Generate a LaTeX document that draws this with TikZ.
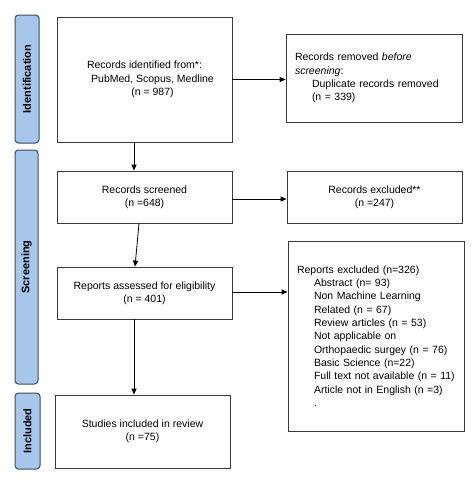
\documentclass[tikz,border=0pt]{standalone}
\usepackage{fontspec}
\setmainfont{Liberation Sans}
\usetikzlibrary{arrows.meta}
\definecolor{barfill}{HTML}{A6C6EC}
\definecolor{bardraw}{HTML}{3E4C5E}
\definecolor{boxdraw}{HTML}{3A3A3A}
\begin{document}
\begin{tikzpicture}[x=1pt,y=-1pt,
  font=\fontsize{10.5}{13.3}\selectfont,
  box/.style={draw=boxdraw, line width=0.8pt, rectangle, inner sep=0pt, align=center},
  leftbox/.style={draw=boxdraw, line width=0.8pt, rectangle, inner xsep=9pt, inner ysep=0pt, align=left, text width=158pt},
  bar/.style={draw=bardraw, fill=barfill, line width=1pt, rounded corners=3.5pt, rotate=90, inner sep=0pt, font=\fontsize{11}{13}\selectfont\bfseries},
  arr/.style={-{Triangle[length=6pt,width=5pt]}, line width=0.8pt, black}]
\useasboundingbox (0,0) rectangle (472,480);
\fill[white] (0,0) rectangle (472,480);

% phase bars
\node[bar, minimum width=128pt, minimum height=24pt] (bid) at (27,79) {Identification};
\node[bar, minimum width=234pt, minimum height=23pt] (bsc) at (26.5,267) {Screening};
\node[bar, minimum width=76pt, minimum height=25pt] (bin) at (27.5,431) {Included};

% main boxes
\node[box, minimum width=175pt, minimum height=125pt] (ident) at (144.5,79.5)
  {Records identified from*:\\\hspace*{16pt}PubMed, Scopus, Medline\\\hspace*{16pt}(n = 987)};
\node[box, minimum width=175pt, minimum height=52pt] (scr) at (144.5,197)
  {Records screened\\(n =648)};
\node[box, minimum width=175pt, minimum height=52pt] (elig) at (144.5,293)
  {Reports assessed for eligibility\\(n = 401)};
\node[box, minimum width=175pt, minimum height=73pt] (incl) at (142.5,431.5)
  {Studies included in review\\(n =75)};

% side boxes
\node[leftbox, minimum height=88pt] (rem) at (374,78)
  {Records removed \textit{before}\\
   \textit{screening}:\\
   \hspace*{17pt}Duplicate records removed\\
   \hspace*{17pt}(n = 339)};
\node[box, minimum width=175pt, minimum height=52pt] (excl) at (374.5,197)
  {Records excluded**\\(n =247)};
\node[leftbox, minimum height=190pt] (rexcl) at (376,336)
  {Reports excluded (n=326)\\
   \hspace*{17pt}Abstract (n= 93)\\
   \hspace*{17pt}Non Machine Learning\\
   \hspace*{17pt}Related (n = 67)\\
   \hspace*{17pt}Review articles (n = 53)\\
   \hspace*{17pt}Not applicable on\\
   \hspace*{17pt}Orthopaedic surgey (n = 76)\\
   \hspace*{17pt}Basic Science (n=22)\\
   \hspace*{17pt}Full text not available (n = 11)\\
   \hspace*{17pt}Article not in English (n =3)\\
   \hspace*{17pt}.};

% connectors
\draw[arr] (ident.east) -- (ident.east -| rem.west);
\draw[arr] ([yshift=-2pt]scr.east) -- ([yshift=-2pt]scr.east -| excl.west);
\draw[arr] ([yshift=1pt]elig.east) -- ([yshift=1pt]elig.east -| rexcl.west);
\draw[arr] ([xshift=-10.5pt]ident.south) -- ([xshift=-10.5pt]ident.south |- scr.north);
\draw[arr] ([xshift=-5.5pt]scr.south) -- ([xshift=-9.5pt]elig.north);
\draw[arr] ([xshift=-10.5pt]elig.south) -- ([xshift=-10.5pt]elig.south |- incl.north);
\end{tikzpicture}
\end{document}
